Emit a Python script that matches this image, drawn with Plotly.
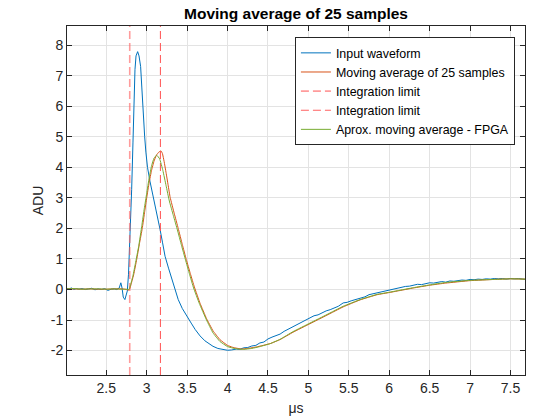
import plotly.graph_objects as go

# ---------------- data ----------------
x_in = [2.01, 2.04, 2.07, 2.10, 2.13, 2.16, 2.20, 2.24, 2.28, 2.32, 2.36, 2.40, 2.44, 2.48,
        2.52, 2.56, 2.60, 2.63, 2.66, 2.68, 2.695, 2.71, 2.73, 2.745, 2.76, 2.775, 2.79, 2.80,
        2.814, 2.83, 2.845, 2.855, 2.868, 2.878, 2.888, 2.905, 2.925, 2.94, 2.958, 2.975, 2.99,
        3.01, 3.04, 3.065, 3.09, 3.13, 3.165, 3.195, 3.227, 3.27, 3.31, 3.35, 3.39, 3.44, 3.495,
        3.55, 3.60, 3.66, 3.72, 3.78, 3.82, 3.88, 3.95, 4.00, 4.05, 4.08, 4.11, 4.15, 4.20, 4.25,
        4.30, 4.35, 4.40, 4.45, 4.50, 4.55, 4.60, 4.65, 4.70, 4.75, 4.81, 4.87, 4.93, 4.97, 5.02,
        5.07, 5.12, 5.17, 5.22, 5.27, 5.32, 5.37, 5.43, 5.48, 5.53, 5.58, 5.64, 5.70, 5.75, 5.80,
        5.85, 5.90, 5.95, 6.00, 6.05, 6.10, 6.15, 6.20, 6.25, 6.30, 6.35, 6.40, 6.45, 6.50, 6.55,
        6.60, 6.65, 6.70, 6.75, 6.80, 6.85, 6.90, 6.95, 7.00, 7.05, 7.10, 7.15, 7.20, 7.25, 7.30,
        7.35, 7.40, 7.45, 7.50, 7.55, 7.60, 7.65, 7.68]
y_in = [0.04, 0.02, 0.05, 0.00, 0.03, 0.01, 0.03, 0.00, 0.02, 0.04, -0.01, 0.02, 0.00, 0.03,
        -0.03, 0.01, 0.02, 0.00, 0.05, 0.22, 0.05, -0.25, -0.33, -0.20, -0.05, 0.50, 1.50, 2.30,
        3.28, 4.80, 6.40, 7.20, 7.65, 7.76, 7.79, 7.65, 7.30, 6.60, 5.60, 5.00, 4.50,
        4.00, 3.55, 3.25, 2.95, 2.45, 1.97, 1.55, 1.09, 0.70, 0.33, 0.00, -0.33, -0.62, -0.88,
        -1.10, -1.31, -1.52, -1.68, -1.80, -1.86, -1.93, -1.97, -1.99, -1.98, -1.96, -1.95, -1.96, -1.91, -1.90,
        -1.85, -1.83, -1.75, -1.72, -1.62, -1.56, -1.50, -1.46, -1.37, -1.30, -1.20, -1.12, -1.03, -0.99, -0.93,
        -0.86, -0.83, -0.76, -0.70, -0.66, -0.60, -0.55, -0.44, -0.42, -0.37, -0.33, -0.27, -0.24, -0.17, -0.14,
        -0.11, -0.07, -0.05, -0.03, 0.02, 0.05, 0.07, 0.10, 0.11, 0.14, 0.17, 0.16, 0.20, 0.22, 0.21,
        0.24, 0.26, 0.24, 0.28, 0.27, 0.29, 0.31, 0.30, 0.33, 0.32, 0.34, 0.33, 0.35, 0.34, 0.36,
        0.35, 0.36, 0.34, 0.36, 0.35, 0.36, 0.34, 0.33]

x_ma = [2.01, 2.10, 2.20, 2.30, 2.40, 2.50, 2.60, 2.70, 2.75, 2.775, 2.79, 2.81, 2.84, 2.876,
        2.91, 2.945, 2.975, 3.00, 3.03, 3.06, 3.09, 3.12, 3.15, 3.177, 3.195, 3.215, 3.24, 3.265,
        3.29, 3.34, 3.39, 3.44, 3.49, 3.54, 3.59, 3.66, 3.74, 3.82, 3.905, 4.00, 4.06, 4.11, 4.17,
        4.25, 4.36, 4.53, 4.65, 4.81, 5.02, 5.23, 5.43, 5.64, 5.85, 6.00, 6.10, 6.30, 6.50,
        6.70, 7.00, 7.30, 7.50, 7.68]
y_ma = [0.02, 0.02, 0.01, 0.02, 0.01, 0.01, 0.02, 0.02, 0.00, -0.02, 0.02, 0.20, 0.50, 0.98,
        1.50, 2.00, 2.55, 3.00, 3.50, 3.90, 4.20, 4.40, 4.50, 4.54, 4.45, 4.20, 3.82, 3.42,
        3.02, 2.50, 2.00, 1.48, 0.98, 0.52, 0.08, -0.45, -0.95, -1.35, -1.64, -1.83, -1.89, -1.92, -1.95,
        -1.93, -1.88, -1.77, -1.64, -1.40, -1.12, -0.84, -0.57, -0.34, -0.17, -0.10, -0.05, 0.05, 0.14,
        0.21, 0.29, 0.33, 0.35, 0.34]

x_fp = [2.01, 2.10, 2.20, 2.30, 2.40, 2.50, 2.60, 2.70, 2.75, 2.78, 2.80, 2.83, 2.86, 2.90,
        2.94, 2.97, 3.00, 3.03, 3.06, 3.09, 3.124, 3.16, 3.20, 3.24, 3.28, 3.33, 3.38, 3.43,
        3.48, 3.53, 3.58, 3.65, 3.74, 3.82, 3.905, 4.00, 4.10, 4.20, 4.30, 4.40,
        4.53, 4.65, 4.81, 5.02, 5.23, 5.43, 5.64, 5.85, 6.00, 6.10, 6.30, 6.50, 6.70, 7.00,
        7.30, 7.50, 7.68]
y_fp = [0.02, 0.03, 0.01, 0.02, 0.02, 0.01, 0.02, 0.01, 0.01, 0.00, 0.15, 0.45, 0.85, 1.40,
        2.10, 2.65, 3.15, 3.65, 4.05, 4.30, 4.40, 4.28, 3.90, 3.40, 2.90, 2.42, 1.95, 1.45,
        0.97, 0.50, 0.05, -0.45, -1.00, -1.42, -1.70, -1.87, -1.94, -1.96, -1.93, -1.87,
        -1.77, -1.63, -1.38, -1.10, -0.82, -0.55, -0.33, -0.16, -0.09, -0.04, 0.06, 0.15, 0.23, 0.30,
        0.33, 0.35, 0.34]

limits = [2.79, 3.17]
x_range = [2.014, 7.68]
y_range = [-2.8, 8.63]
x_ticks = [2.5, 3, 3.5, 4, 4.5, 5, 5.5, 6, 6.5, 7, 7.5]
y_ticks = [-2, -1, 0, 1, 2, 3, 4, 5, 6, 7, 8]

FONT = "Liberation Sans, Arial, Helvetica, sans-serif"
TXT = "#262626"

fig = go.Figure()
fig.add_trace(go.Scatter(x=x_in, y=y_in, mode="lines", name="Input waveform",
                         line=dict(color="#0072BD", width=1)))
fig.add_trace(go.Scatter(x=x_ma, y=y_ma, mode="lines", name="Moving average of 25 samples",
                         line=dict(color="#D95319", width=1, shape="spline", smoothing=0.3)))
fig.add_trace(go.Scatter(x=[limits[0], limits[0]], y=y_range, mode="lines", name="Integration limit",
                         line=dict(color="rgba(255,90,90,0.6)", width=1.6, dash="8px,4px")))
fig.add_trace(go.Scatter(x=[limits[1], limits[1]], y=y_range, mode="lines", name="Integration limit",
                         line=dict(color="rgba(255,80,80,0.9)", width=1.1, dash="8px,4px")))
fig.add_trace(go.Scatter(x=x_fp, y=y_fp, mode="lines", name="Aprox. moving average - FPGA",
                         line=dict(color="#77AC30", width=1, shape="spline", smoothing=0.3)))

axis_common = dict(showline=True, linecolor=TXT, linewidth=1, mirror="ticks",
                   ticks="inside", ticklen=5, tickcolor=TXT, showgrid=True,
                   gridcolor="#e3e3e3", gridwidth=1, zeroline=False, automargin=False,
                   tickfont=dict(family=FONT, size=14, color=TXT))

fig.update_layout(
    width=538, height=419, autosize=False,
    margin=dict(l=67, r=13, t=26, b=44),
    paper_bgcolor="white", plot_bgcolor="white",
    font=dict(family=FONT, size=14, color=TXT),
    title=dict(text="<b>Moving average of 25 samples</b>", x=0.5, xref="paper", xanchor="center",
               y=1 - 14 / 419, yref="container", yanchor="middle", automargin=False,
               font=dict(family=FONT, size=15.5, color="black")),
    xaxis=dict(range=x_range, tickvals=x_ticks, ticktext=[f"{v:g}" for v in x_ticks],
               title=dict(text="μs", standoff=8, font=dict(family=FONT, size=14, color=TXT)),
               **axis_common),
    yaxis=dict(range=y_range, tickvals=y_ticks, ticktext=[f"{v:g}" for v in y_ticks],
               title=dict(text="ADU", standoff=3, font=dict(family=FONT, size=14, color=TXT)),
               **axis_common),
    legend=dict(x=0.978, y=0.9676, xanchor="right", yanchor="top",
                bgcolor="white", bordercolor=TXT, borderwidth=1,
                font=dict(family=FONT, size=12.4, color="black"),
                tracegroupgap=0),
    showlegend=True,
)

fig.write_html("out.html", config={"displayModeBar": False, "staticPlot": True},
               post_script="document.body.style.margin='0';document.body.style.overflow='hidden';")
